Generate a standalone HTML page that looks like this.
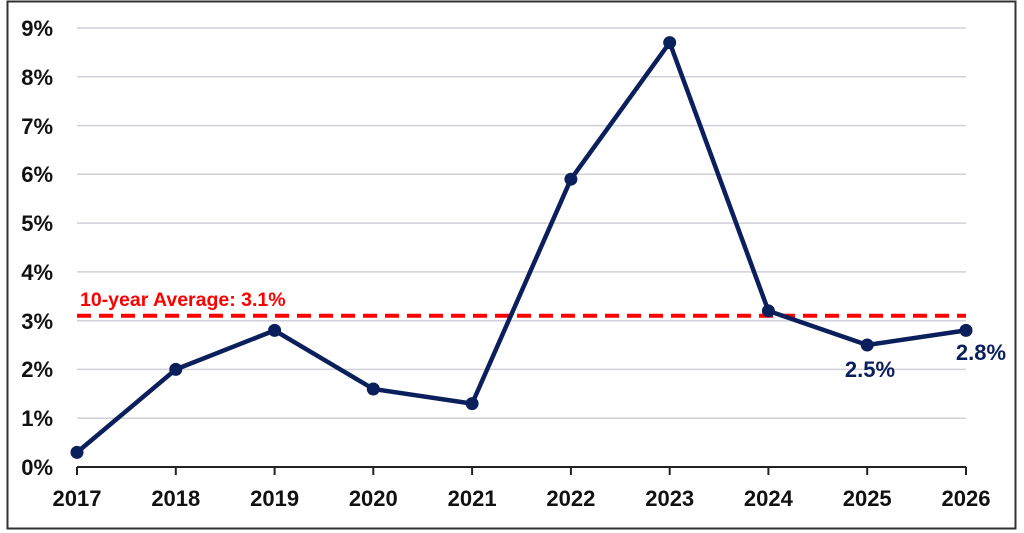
<!DOCTYPE html>
<html><head><style>
html,body{margin:0;padding:0;background:#fff;}
svg{display:block;}
text{font-family:"Liberation Sans",sans-serif;font-weight:bold;}
</style></head><body>
<svg width="1024" height="533" viewBox="0 0 1024 533">
<rect x="7.5" y="1.5" width="1008" height="527" fill="#fff" stroke="#333" stroke-width="2"/>
<g stroke="#d0d0d8" stroke-width="1.5">
<line x1="77" x2="966" y1="28" y2="28"/>
<line x1="77" x2="966" y1="76.8" y2="76.8"/>
<line x1="77" x2="966" y1="125.6" y2="125.6"/>
<line x1="77" x2="966" y1="174.3" y2="174.3"/>
<line x1="77" x2="966" y1="223.1" y2="223.1"/>
<line x1="77" x2="966" y1="271.9" y2="271.9"/>
<line x1="77" x2="966" y1="320.7" y2="320.7"/>
<line x1="77" x2="966" y1="369.4" y2="369.4"/>
<line x1="77" x2="966" y1="418.2" y2="418.2"/>
</g>
<g stroke="#222" stroke-width="2" fill="none">
<line x1="77" x2="966" y1="467" y2="467"/>
<line x1="77" x2="77" y1="467" y2="475"/><line x1="175.8" x2="175.8" y1="467" y2="475"/>
<line x1="274.6" x2="274.6" y1="467" y2="475"/><line x1="373.3" x2="373.3" y1="467" y2="475"/>
<line x1="472.1" x2="472.1" y1="467" y2="475"/><line x1="570.9" x2="570.9" y1="467" y2="475"/>
<line x1="669.7" x2="669.7" y1="467" y2="475"/><line x1="768.4" x2="768.4" y1="467" y2="475"/>
<line x1="867.2" x2="867.2" y1="467" y2="475"/><line x1="966" x2="966" y1="467" y2="475"/>
</g>
<g font-size="22" fill="#111" text-anchor="end">
<text x="53" y="36">9%</text><text x="53" y="85">8%</text><text x="53" y="134">7%</text>
<text x="53" y="182">6%</text><text x="53" y="231">5%</text><text x="53" y="280">4%</text>
<text x="53" y="329">3%</text><text x="53" y="377">2%</text><text x="53" y="426">1%</text>
<text x="53" y="475">0%</text>
</g>
<g font-size="22" fill="#111" text-anchor="middle">
<text x="77" y="506">2017</text><text x="175.8" y="506">2018</text><text x="274.6" y="506">2019</text>
<text x="373.3" y="506">2020</text><text x="472.1" y="506">2021</text><text x="570.9" y="506">2022</text>
<text x="669.7" y="506">2023</text><text x="768.4" y="506">2024</text><text x="867.2" y="506">2025</text>
<text x="966" y="506">2026</text>
</g>
<line x1="77" x2="966" y1="315.8" y2="315.8" stroke="#ff0000" stroke-width="4" stroke-dasharray="14,8"/>
<text x="80" y="306" font-size="19.5" fill="#ff0000">10-year Average: 3.1%</text>
<polyline fill="none" stroke="#0a1f5c" stroke-width="4.5" stroke-linejoin="round"
points="77,452.4 175.8,369.4 274.6,330.4 373.3,389 472.1,403.6 570.9,179.2 669.7,42.6 768.4,310.9 867.2,345 966,330.4"/>
<g fill="#0a1f5c">
<circle cx="77" cy="452.4" r="6.5"/><circle cx="175.8" cy="369.4" r="6.5"/><circle cx="274.6" cy="330.4" r="6.5"/>
<circle cx="373.3" cy="389" r="6.5"/><circle cx="472.1" cy="403.6" r="6.5"/><circle cx="570.9" cy="179.2" r="6.5"/>
<circle cx="669.7" cy="42.6" r="6.5"/><circle cx="768.4" cy="310.9" r="6.5"/><circle cx="867.2" cy="345" r="6.5"/>
<circle cx="966" cy="330.4" r="6.5"/>
</g>
<g font-size="22" fill="#0a1f5c" text-anchor="middle">
<text x="870" y="377">2.5%</text><text x="981" y="360">2.8%</text>
</g>
</svg>
</body></html>
